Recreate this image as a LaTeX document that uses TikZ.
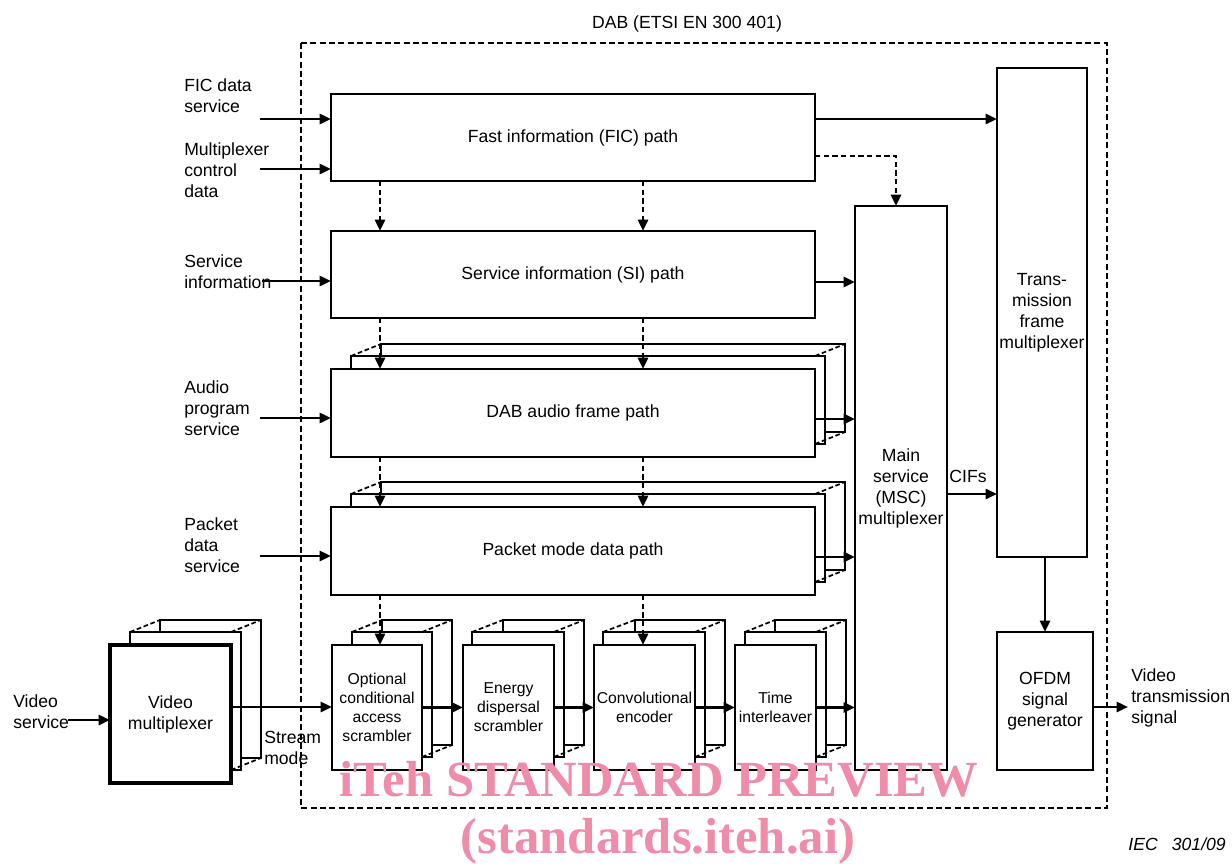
\documentclass[tikz,border=0pt]{standalone}
\usepackage{fontspec}
\setmainfont{Liberation Sans}
\newfontfamily\wmfont{Liberation Serif}
\usetikzlibrary{arrows.meta,calc}
\definecolor{wmpink}{RGB}{238,140,170}
\newcommand\mainfnt{\fontsize{13.2}{15.75}\selectfont}
\newcommand\smallfnt{\fontsize{11.8}{14.25}\selectfont}
\tikzset{
  box/.style={draw, line width=1pt, fill=white, inner sep=0pt, outer sep=0pt, align=center, font=\mainfnt},
  smallbox/.style={box, font=\smallfnt},
  layer/.style={draw, line width=1pt, fill=white},
  layerdash/.style={line width=1.3pt, dash pattern=on 3.5pt off 2pt},
  arr/.style={line width=1.9pt, -{Triangle[length=8.5pt,width=7.5pt]}},
  darr/.style={arr, dash pattern=on 4pt off 2.5pt},
  lbl/.style={align=left, inner sep=0pt, font=\mainfnt, anchor=west},
  outerbox/.style={draw, line width=1.5pt, dash pattern=on 4.5pt off 2.5pt},
  wm/.style={font=\wmfont\bfseries\fontsize{38}{40}\selectfont, text=wmpink, anchor=base, inner sep=0pt}
}
% #1 style, #2 name, #3 x1, #4 y1, #5 x2, #6 y2, #7 text
\newcommand\mkbox[7]{%
  \pgfmathsetmacro\mkcx{(#3+#5)/2}%
  \pgfmathsetmacro\mkcy{(#4+#6)/2}%
  \pgfmathsetmacro\mkw{(#5-#3)*0.75}%
  \pgfmathsetmacro\mkh{(#6-#4)*0.75}%
  \node[#1, minimum width=\mkw pt, minimum height=\mkh pt] (#2) at (\mkcx,\mkcy) {#7};%
}
% back layers: x1 y1 x2 y2 leftoffset2 leftoffset3
\newcommand\stackback[6]{%
  \draw[layer] (#1+#6,#2-25) rectangle (#3+30,#4-25);
  \draw[layer] (#1+#5,#2-13) rectangle (#3+10,#4-13);
  \draw[layerdash] (#1+#5,#2-13) -- (#1+#6,#2-25)
                   (#3,#2-13) -- (#3+30,#2-25)
                   (#3,#4-13) -- (#3+30,#4-25);
}
\begin{document}
\begin{tikzpicture}[x=0.75pt,y=-0.75pt]
\useasboundingbox (0,0) rectangle (1232,864);

% outer frame and title
\node[font=\mainfnt] (title) at (687,24) {DAB (ETSI EN 300 401)};
\draw[outerbox] (301,43) rectangle (1107,808);

% main path boxes
\mkbox{box}{fic}{331}{94}{815}{181}{Fast information (FIC) path}
\mkbox{box}{si}{331}{231}{815}{318}{Service information (SI) path}
\stackback{331}{369}{815}{457}{20}{50}
\mkbox{box}{audio}{331}{369}{815}{457}{DAB audio frame path}
\stackback{331}{507}{815}{595}{20}{50}
\mkbox{box}{packet}{331}{507}{815}{595}{Packet mode data path}
\mkbox{box}{msc}{855}{206}{947}{770}{Main\\service\\(MSC)\\multiplexer}
\mkbox{box}{tfm}{997}{68}{1087}{557}{Trans-\\mission\\frame\\multiplexer}
\mkbox{box}{ofdm}{997}{632}{1093}{770}{OFDM\\signal\\generator}

% bottom row
\stackback{110}{645}{231}{783}{20}{50}
\mkbox{box, line width=2.6pt}{vmux}{110}{645}{231}{783}{Video\\multiplexer}
\stackback{332}{645}{422}{770}{20}{50}
\mkbox{smallbox}{oca}{332}{645}{422}{770}{Optional\\conditional\\access\\scrambler}
\stackback{463}{645}{554}{770}{9}{40}
\mkbox{smallbox}{eds}{463}{645}{554}{770}{Energy\\dispersal\\scrambler}
\stackback{594}{645}{695}{770}{9}{41}
\mkbox{smallbox}{conv}{594}{645}{695}{770}{Convolutional\\encoder}
\stackback{735}{645}{816}{770}{10}{40}
\mkbox{smallbox}{ti}{735}{645}{816}{770}{Time\\interleaver}

% labels
\node[lbl] (lfic) at (184,96) {FIC data\\service};
\node[lbl] (lmux) at (184,170) {Multiplexer\\control\\data};
\node[lbl] (lsi) at (184,272) {Service\\information};
\node[lbl] (laud) at (184,408) {Audio\\program\\service};
\node[lbl] (lpkt) at (184,545) {Packet\\data\\service};
\node[lbl] (lvid) at (13,712) {Video\\service};
\node[lbl] (lstream) at (264,748) {Stream\\mode};
\node[lbl] (lvts) at (1131,698) {Video\\transmission\\signal};
\node[font=\mainfnt] (lcif) at (968,476) {CIFs};
\node[font=\mainfnt\itshape, anchor=east, inner sep=0pt] (iec) at (1226,844) {IEC\hspace{0.8em}301/09};

% free ends
\coordinate (sfic) at (260,119);
\coordinate (smux) at (260,169);
\coordinate (ssi) at (262,281);
\coordinate (saud) at (260,418);
\coordinate (spkt) at (260,556);
\coordinate (svid) at (68,720);
\coordinate (evts) at (1128,707);
\coordinate (c1) at (380,0);
\coordinate (c2) at (643,0);

% inputs
\draw[arr] (sfic) -- (sfic -| fic.west);
\draw[arr] (smux) -- (smux -| fic.west);
\draw[arr] (ssi) -- (ssi -| si.west);
\draw[arr] (saud) -- (saud -| audio.west);
\draw[arr] (spkt) -- (spkt -| packet.west);
\draw[arr] (svid) -- (svid -| vmux.west);

% FIC outputs
\coordinate (f1) at ($(fic.north east)+(0,25)$);
\draw[arr] (f1) -- (f1 -| tfm.west);
\coordinate (f2) at ($(fic.north east)+(0,62)$);
\draw[darr] (f2) -| ($(msc.north)+(-5,0)$);

% dashed down arrows
\draw[darr] (fic.south -| c1) -- (si.north -| c1);
\draw[darr] (fic.south -| c2) -- (si.north -| c2);
\draw[darr] (si.south -| c1) -- (audio.north -| c1);
\draw[darr] (si.south -| c2) -- (audio.north -| c2);
\draw[darr] (audio.south -| c1) -- (packet.north -| c1);
\draw[darr] (audio.south -| c2) -- (packet.north -| c2);
\draw[darr] (packet.south -| c1) -- (oca.north -| c1);
\draw[darr] (packet.south -| c2) -- (conv.north -| c2);

% into MSC
\coordinate (s1) at ($(si.north east)+(0,51)$);
\draw[arr] (s1) -- (s1 -| msc.west);
\coordinate (a1) at ($(audio.north east)+(0,50)$);
\draw[arr] (a1) -- (a1 -| msc.west);
\coordinate (p1) at ($(packet.north east)+(0,50)$);
\draw[arr] (p1) -- (p1 -| msc.west);
\draw[arr] (ti.east) -- (ti.east -| msc.west);

% bottom chain
\coordinate (v1) at ($(vmux.east)+(0,-7)$);
\draw[arr] (v1) -- (v1 -| oca.west);
\draw[arr] (oca.east) -- (eds.west);
\draw[arr] (eds.east) -- (conv.west);
\draw[arr] (conv.east) -- (ti.west);

% right side
\coordinate (m1) at ($(msc.east)+(0,6)$);
\draw[arr] (m1) -- (m1 -| tfm.west);
\draw[arr] (tfm.south -| ofdm.north) -- (ofdm.north);
\coordinate (o1) at ($(ofdm.east)+(0,6)$);
\draw[arr] (o1) -- (evts);

% watermark
\node[wm] (wm1) at (659,796) {iTeh STANDARD PREVIEW};
\node[wm] (wm2) at (658,853) {(standards.iteh.ai)};
\end{tikzpicture}
\end{document}
